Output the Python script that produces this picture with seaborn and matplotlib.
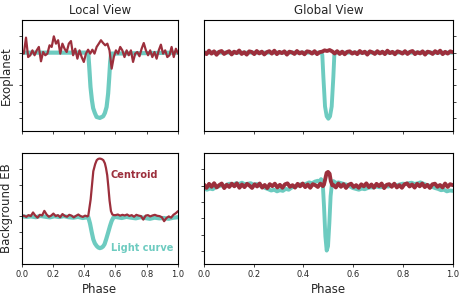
import numpy as np
import matplotlib
matplotlib.use('Agg')
import matplotlib.pyplot as plt
import seaborn as sns

# colours
TEAL = '#6DCBC0'
RED = '#9C2F3C'

# ---- Exoplanet, local view ----
tl_lc_phase = [0.0, 0.4255, 0.432, 0.440, 0.449, 0.457, 0.468, 0.479, 0.500,
               0.521, 0.532, 0.543, 0.553, 0.560, 0.566, 0.572, 1.0]
tl_lc_flux = [0.0, 0.0, -0.88, -2.1, -2.9, -3.4, -3.7, -3.94, -4.0,
              -3.9, -3.7, -3.33, -2.5, -1.5, -0.57, -0.06, 0.0]
tl_cen = [0.14, -0.06, 0.92, -0.27, -0.16, 0.14, -0.16, 0.14, 0.35, -0.53,
          0.04, -0.16, -0.06, 0.45, 0.35, 1.0, 0.55, 0.76, -0.06, 0.55,
          0.24, 0.04, 0.55, 0.71, -0.16, 0.24, -0.37, 0.14, -0.27, -0.57,
          -0.06, 0.18, -0.06, 0.18, -0.06, 0.35, 0.55, 0.76, 0.59, 0.45,
          0.55, 0.14, -0.98, -0.27, 0.14, -0.06, 0.35, 0.14, -0.27, 0.14,
          -0.16, 0.14, -0.57, -0.06, 0.04, -0.22, 0.24, 0.59, 0.14, -0.16,
          0.14, -0.27, 0.04, -0.37, 0.14, 0.49, -0.06, 0.14, -0.27, -0.16,
          0.35, -0.27, 0.24, -0.06]

# ---- Exoplanet, global view ----
tr_lc_phase = [0.0, 0.472, 0.4757, 0.480, 0.4866, 0.4933, 0.500, 0.5067,
               0.5134, 0.520, 0.524, 0.528, 1.0]
tr_lc_flux = [0.0, 0.0, -0.15, -1.5, -3.3, -3.9, -4.05, -3.9,
              -3.3, -1.5, -0.15, 0.0, 0.0]
tr_cen = [0.03, -0.09, 0.12, -0.06, 0.08, -0.13, 0.05, 0.1, -0.08, 0.02,
          0.09, -0.11, 0.06, -0.03, 0.13, -0.08, 0.03, -0.12, 0.08, 0.04,
          -0.09, 0.1, -0.05, 0.06, -0.11, 0.03, 0.09, -0.06, 0.12, -0.09,
          0.05, -0.03, 0.08, -0.12, 0.06, 0.02, -0.08, 0.1, -0.05, 0.03,
          -0.1, 0.08, 0.05, -0.06, 0.09, -0.09, 0.03, 0.06, 0.14, 0.1,
          0.16, 0.08, -0.05, 0.09, -0.08, 0.06, -0.1, 0.05, 0.08, -0.06,
          0.03, -0.09, 0.1, -0.03, 0.06, -0.12, 0.08, 0.02, -0.08, 0.09,
          -0.05, 0.06, -0.09, 0.12, -0.03, 0.05, -0.1, 0.08, 0.03, -0.06,
          0.09, -0.08, 0.05, 0.1, -0.09, 0.03, -0.05, 0.08, -0.12, 0.06,
          0.02, -0.08, 0.09, -0.03, 0.12, -0.09, 0.05, -0.06, 0.08, 0.03]

# ---- Background EB, local view ----
bl_lc_pre = [0.02, -0.03, 0.0, -0.05, 0.03, -0.02, -0.06, 0.01, -0.04, 0.02,
             -0.05, -0.08, -0.03, -0.10, -0.05]
bl_lc_dip_phase = [0.426, 0.437, 0.448, 0.458, 0.468, 0.480, 0.490, 0.500, 0.510,
                   0.520, 0.530, 0.540, 0.552, 0.565, 0.575, 0.586, 0.600]
bl_lc_dip = [-0.05, -0.45, -1.0, -1.45, -1.7, -1.87, -1.96, -2.0, -1.97,
             -1.9, -1.75, -1.45, -1.05, -0.6, -0.3, -0.08, -0.03]
bl_lc_post = [-0.05, -0.1, -0.03, -0.08, -0.12, -0.05, -0.1, -0.15, -0.08, -0.12,
              -0.1, -0.15, -0.08, -0.05]
bl_cen_pre = [0.0, 0.05, -0.03, 0.08, 0.02, 0.25, 0.05, -0.08, 0.10, 0.06,
              0.35, 0.12, -0.02, 0.05, 0.18, 0.02, 0.08, -0.05, 0.15, 0.03,
              -0.02, 0.10, 0.05, -0.06, 0.04, 0.12, 0.02, -0.03, 0.05, 0.0]
bl_cen_hump_phase = [0.426, 0.441, 0.458, 0.470, 0.480, 0.490, 0.500, 0.511, 0.522,
                     0.532, 0.539, 0.547, 0.554, 0.562, 0.571, 0.580, 0.590]
bl_cen_hump = [0.05, 1.07, 2.85, 3.3, 3.55, 3.63, 3.65, 3.62, 3.55,
               3.35, 3.06, 2.6, 1.9, 1.0, 0.33, 0.12, 0.08]
bl_cen_post = [0.08, 0.12, 0.05, 0.10, 0.06, 0.12, 0.03, 0.08, -0.02, 0.10,
               0.05, 0.02, -0.20, 0.05, 0.08, 0.0, 0.06, 0.10, 0.04, 0.02,
               -0.05, -0.30, -0.10, 0.0, -0.08, 0.10, 0.20, 0.33]

# ---- Background EB, global view ----
br_lc_pre = [-0.15, -0.25, -0.18, -0.22, -0.1, -0.05, 0.02, -0.04, 0.08, 0.12,
             0.05, 0.15, 0.1, 0.18, 0.08, 0.12, 0.15, 0.05, 0.1, 0.02,
             -0.05, -0.15, -0.22, -0.3, -0.25, -0.35, -0.28, -0.32, -0.2, -0.25,
             -0.12, -0.05, 0.0, 0.08, 0.05, 0.12, 0.2, 0.15, 0.25, 0.3]
br_lc_dip_phase = [0.464, 0.4705, 0.477, 0.4825, 0.488, 0.4933, 0.4986, 0.504,
                   0.509, 0.5147, 0.520, 0.526, 0.532]
br_lc_dip = [0.2, 0.4, 0.27, -1.27, -3.1, -3.98, -3.71, -2.29,
             -0.65, 0.16, 0.28, 0.22, 0.15]
br_lc_post = [0.2, 0.15, 0.1, 0.05, -0.05, -0.15, -0.2, -0.25, -0.18, -0.22,
              -0.15, -0.1, -0.12, -0.05, -0.1, -0.08, -0.02, -0.06, 0.0, 0.05,
              0.02, 0.08, 0.12, 0.1, 0.15, 0.18, 0.1, 0.14, 0.2, 0.12,
              0.05, 0.0, -0.08, -0.15, -0.2, -0.28, -0.25, -0.35, -0.3, -0.32]
br_cen_pre = [0.07, -0.14, 0.11, -0.07, 0.15, -0.11, 0.03, 0.13, -0.15, 0.05,
              -0.08, 0.12, -0.04, 0.14, -0.13, 0.07, -0.09, 0.11, 0.0, -0.14,
              0.08, -0.05, 0.13, -0.12, 0.04, -0.15, 0.09, -0.03, 0.12, -0.11,
              0.05, -0.13, 0.08, 0.14, -0.07, 0.03, -0.12, 0.11, -0.04, 0.13,
              -0.09, 0.07, -0.13, 0.09, 0.03, -0.08, 0.12, -0.03]
br_cen_bump_phase = [0.482, 0.487, 0.493, 0.4987, 0.505, 0.510, 0.516]
br_cen_bump = [0.05, 0.37, 0.78, 0.84, 0.73, 0.27, 0.02]
br_cen_post = [0.04, -0.11, 0.13, -0.07, 0.09, -0.14, 0.05, 0.12, -0.08, 0.03,
               -0.13, 0.08, -0.04, 0.14, -0.09, 0.07, -0.12, 0.11, -0.03, 0.13,
               -0.15, 0.05, 0.09, -0.07, 0.12, -0.11, 0.03, -0.13, 0.08, 0.14,
               -0.05, 0.07, -0.12, 0.11, -0.04, 0.13, -0.09, 0.05, -0.14, 0.08,
               0.12, -0.07, 0.04, -0.11, 0.13, -0.08, 0.09, 0.03]

# assemble phase grids for the evenly sampled noisy pieces
tl_cen_phase = np.linspace(0, 1, len(tl_cen))
tr_cen_phase = np.linspace(0, 1, len(tr_cen))

bl_lc_x = np.concatenate([np.linspace(0, 0.42, len(bl_lc_pre)), bl_lc_dip_phase,
                          np.linspace(0.61, 1.0, len(bl_lc_post))])
bl_lc_y = np.concatenate([bl_lc_pre, bl_lc_dip, bl_lc_post])
bl_cen_x = np.concatenate([np.linspace(0, 0.42, len(bl_cen_pre)), bl_cen_hump_phase,
                           np.linspace(0.60, 1.0, len(bl_cen_post))])
bl_cen_y = np.concatenate([bl_cen_pre, bl_cen_hump, bl_cen_post])

br_lc_x = np.concatenate([np.linspace(0, 0.458, len(br_lc_pre)), br_lc_dip_phase,
                          np.linspace(0.54, 1.0, len(br_lc_post))])
br_lc_y = np.concatenate([br_lc_pre, br_lc_dip, br_lc_post])
br_cen_x = np.concatenate([np.linspace(0, 0.478, len(br_cen_pre)), br_cen_bump_phase,
                           np.linspace(0.52, 1.0, len(br_cen_post))])
br_cen_y = np.concatenate([br_cen_pre, br_cen_bump, br_cen_post])

# Plot
sns.set_style('ticks')
plt.rcParams['font.family'] = ['DejaVu Sans']

fig = plt.figure(figsize=(4.63, 2.99), dpi=100)
lx, lw_ = 0.0469, 0.3376
rx, rw = 0.4406, 0.5372
ty, by, h = 0.5619, 0.1171, 0.3712
ax_tl = fig.add_axes([lx, ty, lw_, h])
ax_tr = fig.add_axes([rx, ty, rw, h])
ax_bl = fig.add_axes([lx, by, lw_, h])
ax_br = fig.add_axes([rx, by, rw, h])


def line(ax, x, y, color, width):
    sns.lineplot(x=x, y=y, ax=ax, color=color, lw=width, sort=False,
                 estimator=None, legend=False)


line(ax_tl, tl_lc_phase, tl_lc_flux, TEAL, 3.0)
line(ax_tl, tl_cen_phase, tl_cen, RED, 1.6)
line(ax_tr, tr_lc_phase, tr_lc_flux, TEAL, 2.8)
line(ax_tr, tr_cen_phase, tr_cen, RED, 2.8)
line(ax_bl, bl_lc_x, bl_lc_y, TEAL, 3.0)
line(ax_bl, bl_cen_x, bl_cen_y, RED, 1.6)
line(ax_br, br_lc_x, br_lc_y, TEAL, 2.8)
line(ax_br, br_cen_x, br_cen_y, RED, 2.8)

for ax in [ax_tl, ax_tr, ax_bl, ax_br]:
    ax.set_xlim(0, 1)
    ax.set_xticks([0, 0.2, 0.4, 0.6, 0.8, 1.0])
    ax.set_xlabel('')
    ax.set_ylabel('')
    ax.tick_params(length=2.5, width=0.6, labelsize=6, pad=2, labelleft=False,
                   labelright=False)
    for s in ax.spines.values():
        s.set_visible(True)
        s.set_linewidth(0.8)
        s.set_color('black')

for ax in [ax_tl, ax_tr, ax_br]:
    ax.set_ylim(-4.8, 2.0)
    ax.set_yticks([-4, -3, -2, -1, 0, 1])
ax_bl.set_ylim(-3, 4)
ax_bl.set_yticks([-2, -1, 0, 1, 2, 3])

ax_tr.yaxis.tick_right()
ax_tr.tick_params(labelright=False)

for ax in [ax_tl, ax_tr]:
    ax.tick_params(labelbottom=False)
for ax in [ax_bl, ax_br]:
    ax.set_xticklabels(['0.0', '0.2', '0.4', '0.6', '0.8', '1.0'])
    ax.set_xlabel('Phase', fontsize=8.5, labelpad=3)

ax_tl.set_title('Local View', fontsize=8.5, pad=4)
ax_tr.set_title('Global View', fontsize=8.5, pad=4)
ax_tl.set_ylabel('Exoplanet', fontsize=8.5, labelpad=4)
ax_bl.set_ylabel('Background EB', fontsize=8.5, labelpad=4)

ax_bl.text(0.571, 2.6, 'Centroid', color=RED, fontsize=7, fontweight='bold',
           ha='left', va='center')
ax_bl.text(0.571, -2.0, 'Light curve', color=TEAL, fontsize=7, fontweight='bold',
           ha='left', va='center')

fig.savefig('out.png', dpi=100)
